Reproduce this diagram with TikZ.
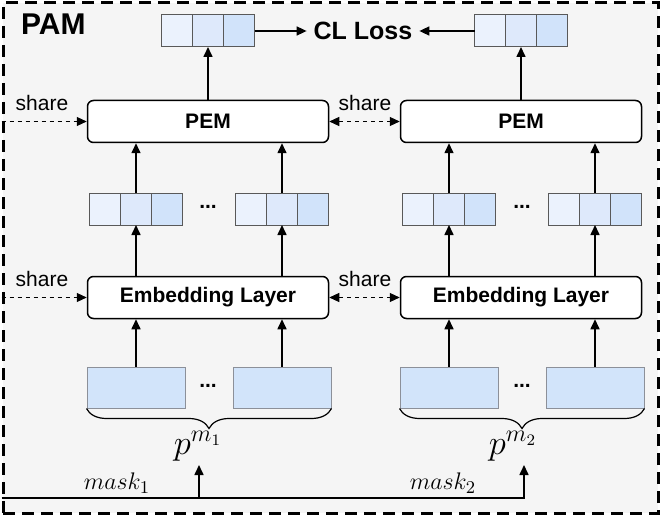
\documentclass[tikz,border=0pt]{standalone}
\usepackage{fontspec}
\setmainfont{Liberation Sans}
\usepackage{xcolor}
\usepackage{tikz}
\usetikzlibrary{
    positioning,
    arrows.meta,
    decorations.pathreplacing
}

\definecolor{panelgray}{HTML}{F5F5F5}
\definecolor{cellone}{HTML}{EBF2FD}
\definecolor{celltwo}{HTML}{DEE9FB}
\definecolor{cellthree}{HTML}{D1E3FA}
\definecolor{tokenblue}{HTML}{D2E4FA}
\definecolor{cellframe}{HTML}{8C9099}

\begin{document}
\begin{tikzpicture}[
    x=0.5pt, y=0.5pt,
    panel/.style={
        rectangle,
        draw,
        fill=panelgray,
        line width=1.5pt,
        dash pattern=on 6pt off 3.5pt,
        minimum width=327.5pt,
        minimum height=255pt
    },
    layer/.style={
        rectangle,
        rounded corners=3pt,
        draw,
        fill=white,
        line width=0.75pt,
        minimum width=120.5pt,
        minimum height=21pt,
        font=\bfseries\fontsize{10.5}{12}\selectfont
    },
    cell/.style={
        rectangle,
        draw=black!65,
        line width=0.5pt,
        inner sep=0pt,
        outer sep=0pt,
        minimum width=15.5pt,
        minimum height=16pt
    },
    token/.style={
        rectangle,
        draw=cellframe,
        fill=tokenblue,
        line width=0.5pt,
        minimum width=49pt,
        minimum height=20.5pt
    },
    dots/.style={font=\bfseries\fontsize{10.5}{12}\selectfont},
    sharelbl/.style={font=\fontsize{10.5}{12}\selectfont},
    arrow/.style={-{Triangle[length=5pt,width=4.5pt]}, line width=0.8pt},
    sharearrow/.style={-{Triangle[length=5pt,width=4.5pt]}, line width=0.5pt,
        dash pattern=on 2pt off 2pt},
    brace/.style={decorate, decoration={brace, mirror, amplitude=10pt},
        line width=0.6pt}
]

\useasboundingbox (0,0) rectangle (664,-524);

\node[panel] (pam) at (330.5,-258) {};
\node[anchor=west, font=\bfseries\fontsize{15}{17}\selectfont] (pamlbl)
    at (14,-24) {PAM};

% top vectors and loss
\node[cell, fill=celltwo] (outL2) at (208,-31) {};
\node[cell, fill=cellone, left=0pt of outL2] (outL1) {};
\node[cell, fill=cellthree, right=0pt of outL2] (outL3) {};

\node[cell, fill=celltwo] (outR2) at (521,-31) {};
\node[cell, fill=cellone, left=0pt of outR2] (outR1) {};
\node[cell, fill=cellthree, right=0pt of outR2] (outR3) {};

\node[font=\bfseries\fontsize{12.5}{14}\selectfont] (loss) at (363,-31) {CL Loss};

% encoders
\node[layer] (pemL) at (208,-121.5) {PEM};
\node[layer] (pemR) at (521,-121.5) {PEM};

\node[layer] (embL) at (208,-297.5) {Embedding Layer};
\node[layer] (embR) at (521,-297.5) {Embedding Layer};

% middle vectors
\node[cell, fill=celltwo] (vecA2) at (136,-209) {};
\node[cell, fill=cellone, left=0pt of vecA2] (vecA1) {};
\node[cell, fill=cellthree, right=0pt of vecA2] (vecA3) {};

\node[cell, fill=celltwo] (vecB2) at (282,-209) {};
\node[cell, fill=cellone, left=0pt of vecB2] (vecB1) {};
\node[cell, fill=cellthree, right=0pt of vecB2] (vecB3) {};

\node[cell, fill=celltwo] (vecC2) at (449,-209) {};
\node[cell, fill=cellone, left=0pt of vecC2] (vecC1) {};
\node[cell, fill=cellthree, right=0pt of vecC2] (vecC3) {};

\node[cell, fill=celltwo] (vecD2) at (595,-209) {};
\node[cell, fill=cellone, left=0pt of vecD2] (vecD1) {};
\node[cell, fill=cellthree, right=0pt of vecD2] (vecD3) {};

\node[dots] (dotsL) at (208,-207) {...};
\node[dots] (dotsR) at (522,-207) {...};

% inputs
\node[token] (tokA) at (136,-387.5) {};
\node[token] (tokB) at (282,-387.5) {};
\node[token] (tokC) at (449,-387.5) {};
\node[token] (tokD) at (595,-387.5) {};

\node[dots] (dotsBL) at (208,-386) {...};
\node[dots] (dotsBR) at (522,-386) {...};

\draw[brace] (tokA.south west) -- (tokB.south east);
\draw[brace] (tokC.south west) -- (tokD.south east);

\node[font=\fontsize{17}{20}\selectfont] (pm1) at (198,-446) {$p^{m_1}$};
\node[font=\fontsize{17}{20}\selectfont] (pm2) at (513,-446) {$p^{m_2}$};

% masks
\coordinate (forkA) at (199,-498);
\coordinate (forkB) at (524,-498);
\coordinate (inA) at (199,-465);
\coordinate (inB) at (524,-465);

\node[font=\fontsize{13}{15}\selectfont] (mask1) at (117,-483) {$mask_1$};
\node[font=\fontsize{13}{15}\selectfont] (mask2) at (443,-483) {$mask_2$};

% share labels
\node[sharelbl] (shareP1) at (42,-103) {share};
\node[sharelbl] (shareP2) at (365,-103) {share};
\node[sharelbl] (shareE1) at (42,-279) {share};
\node[sharelbl] (shareE2) at (365,-279) {share};

\draw[arrow] (tokA.north) -- (tokA.north |- embL.south);
\draw[arrow] (tokB.north) -- (tokB.north |- embL.south);
\draw[arrow] (tokC.north) -- (tokC.north |- embR.south);
\draw[arrow] (tokD.north) -- (tokD.north |- embR.south);

\draw[arrow] (embL.north -| vecA2) -- (vecA2.south);
\draw[arrow] (embL.north -| vecB2) -- (vecB2.south);
\draw[arrow] (embR.north -| vecC2) -- (vecC2.south);
\draw[arrow] (embR.north -| vecD2) -- (vecD2.south);

\draw[arrow] (vecA2.north) -- (vecA2.north |- pemL.south);
\draw[arrow] (vecB2.north) -- (vecB2.north |- pemL.south);
\draw[arrow] (vecC2.north) -- (vecC2.north |- pemR.south);
\draw[arrow] (vecD2.north) -- (vecD2.north |- pemR.south);

\draw[arrow] (pemL.north) -- (outL2.south);
\draw[arrow] (pemR.north) -- (outR2.south);

\draw[arrow] (outL3.east) -- (loss.west);
\draw[arrow] (outR1.west) -- (loss.east);

\draw[sharearrow] (pam.west |- pemL) -- (pemL.west);
\draw[sharearrow, {Triangle[length=5pt,width=4.5pt]}-{Triangle[length=5pt,width=4.5pt]}]
    (pemL.east) -- (pemR.west);
\draw[sharearrow] (pam.west |- embL) -- (embL.west);
\draw[sharearrow, {Triangle[length=5pt,width=4.5pt]}-{Triangle[length=5pt,width=4.5pt]}]
    (embL.east) -- (embR.west);

\draw[arrow] (pam.west |- forkB) -- (forkB) -- (inB);
\draw[arrow] (forkA) -- (inA);

\end{tikzpicture}
\end{document}
